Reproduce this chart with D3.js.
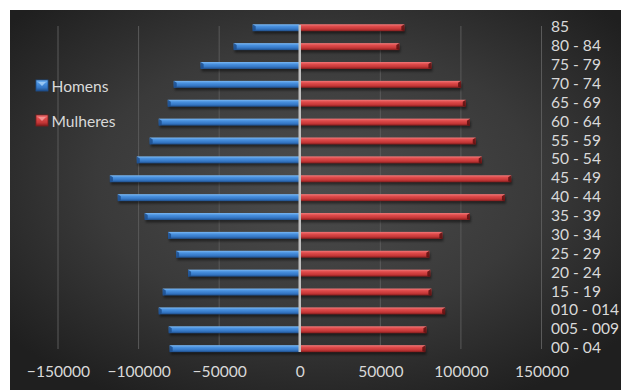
<!DOCTYPE html>
<html><head><meta charset="utf-8">
<script src="https://cdn.jsdelivr.net/npm/d3@7"></script>
<style>html,body{margin:0;padding:0;background:#fff;}svg{display:block;}</style>
</head><body>
<svg id="chart" width="621" height="390"></svg>
<script>
const categories = ["85","80 - 84","75 - 79","70 - 74","65 - 69","60 - 64","55 - 59","50 - 54","45 - 49","40 - 44","35 - 39","30 - 34","25 - 29","20 - 24","15 - 19","010 - 014","005 - 009","00 - 04"];
const homens = [-29200,-41000,-61500,-78200,-81900,-87500,-93100,-101100,-117800,-112900,-96200,-81700,-76700,-69300,-85000,-87500,-81300,-80700];
const mulheres = [64900,61800,81700,100100,103000,105600,109200,112900,131200,127300,105600,88500,80400,81000,81700,90200,78600,77900];
const xTicks = [-150000,-100000,-50000,0,50000,100000,150000];
const seriesNames = ["Homens","Mulheres"];

const svg = d3.select("#chart");
const defs = svg.append("defs");
const FONT = "Lato, 'Open Sans', sans-serif";
const FS = "15.6px";
const TXT = "#d9d9d9";

const rg = defs.append("radialGradient").attr("id","bg").attr("cx","50%").attr("cy","45%").attr("r","65%");
rg.append("stop").attr("offset","0%").attr("stop-color","#4d4d4d");
rg.append("stop").attr("offset","55%").attr("stop-color","#3a3a3a");
rg.append("stop").attr("offset","100%").attr("stop-color","#1f1f1f");
svg.append("rect").attr("x",10).attr("y",10).attr("width",611).attr("height",380).attr("fill","url(#bg)");

function barGrad(id, c1, c2, c3, c4){
  const g = defs.append("linearGradient").attr("id",id).attr("x1",0).attr("y1",0).attr("x2",0).attr("y2",1);
  g.append("stop").attr("offset","0%").attr("stop-color",c1);
  g.append("stop").attr("offset","30%").attr("stop-color",c2);
  g.append("stop").attr("offset","70%").attr("stop-color",c3);
  g.append("stop").attr("offset","100%").attr("stop-color",c4);
}
barGrad("gBlue","#7cb8f2","#4a92e0","#3476c4","#1e4c86");
barGrad("gRed","#f07a7a","#e04c4c","#c43636","#7e1c1c");

const sh = defs.append("filter").attr("id","shadow").attr("x","-10%").attr("y","-50%").attr("width","120%").attr("height","250%");
sh.append("feGaussianBlur").attr("stdDeviation",1.2);

const x = d3.scaleLinear().domain([-150000,150000]).range([58,541.5]);
const y = d3.scaleBand().domain(categories).range([18.3,358.1]).padding(0);
const bh = 7;

svg.append("g").selectAll("line").data(xTicks).join("line")
  .attr("x1",d=>x(d)).attr("x2",d=>x(d)).attr("y1",26).attr("y2",349)
  .attr("stroke","#5a5a5a").attr("stroke-width",1);

const xAxis = d3.axisBottom(x).tickValues(xTicks).tickSize(0).tickPadding(0).tickFormat(d3.format("d"));
const gx = svg.append("g").attr("transform","translate(0,366)").call(xAxis);
gx.select(".domain").remove();
gx.selectAll("text").attr("fill",TXT).attr("font-family",FONT).attr("font-size",FS).attr("dy","0.71em");

const rows = categories.map((c,i)=>({c, h:homens[i], m:mulheres[i]}));

function drawSeries(key, grad, endColor){
  const g = svg.append("g");
  g.selectAll("rect.sh").data(rows).join("rect").attr("class","sh")
    .attr("x",d=>Math.min(x(0),x(d[key]))+1).attr("width",d=>Math.abs(x(d[key])-x(0)))
    .attr("y",d=>y(d.c)+y.bandwidth()/2-bh/2+2.5).attr("height",bh)
    .attr("fill","#000").attr("opacity",0.45).attr("filter","url(#shadow)");
  g.selectAll("rect.bar").data(rows).join("rect").attr("class","bar")
    .attr("x",d=>Math.min(x(0),x(d[key]))).attr("width",d=>Math.abs(x(d[key])-x(0)))
    .attr("y",d=>y(d.c)+y.bandwidth()/2-bh/2).attr("height",bh)
    .attr("fill",`url(#${grad})`);
  g.selectAll("path.cap").data(rows).join("path").attr("class","cap")
    .attr("d",d=>{
      const xe = x(d[key]); const s = d[key]<0 ? 1 : -1;
      const yt = y(d.c)+y.bandwidth()/2-bh/2;
      return `M${xe},${yt}L${xe+s*3},${yt+2}L${xe+s*3},${yt+bh-1}L${xe},${yt+bh}Z`;
    })
    .attr("fill",endColor).attr("opacity",0.85);
}
drawSeries("h","gBlue","#1d4f8e");
drawSeries("m","gRed","#5a1010");

svg.append("line").attr("x1",x(0)).attr("x2",x(0)).attr("y1",25).attr("y2",352)
  .attr("stroke","#c0c0c0").attr("stroke-width",2.5);

svg.append("g").selectAll("text").data(categories).join("text")
  .attr("x",551).attr("y",d=>y(d)+y.bandwidth()/2-1.5)
  .attr("dominant-baseline","central")
  .attr("fill",TXT).attr("font-family",FONT).attr("font-size",FS)
  .text(d=>d);

const legColors = [["gBlue","#1d4f8e"],["gRed","#7e1c1c"]];
const leg = svg.append("g").selectAll("g").data(seriesNames).join("g")
  .attr("transform",(d,i)=>`translate(36,${80+i*35})`);
leg.append("rect").attr("width",12).attr("height",11).attr("fill",(d,i)=>`url(#${legColors[i][0]})`)
  .attr("stroke",(d,i)=>legColors[i][1]).attr("stroke-width",0.8);
leg.append("path").attr("d","M2,2L10,2L6,6Z").attr("fill",(d,i)=>i===0?"#a9d2f7":"#f5a0a0").attr("opacity",0.8);
leg.append("text").attr("x",15.5).attr("y",5.5).attr("dominant-baseline","central")
  .attr("fill",TXT).attr("font-family",FONT).attr("font-size",FS).text(d=>d);
</script>
</body></html>
